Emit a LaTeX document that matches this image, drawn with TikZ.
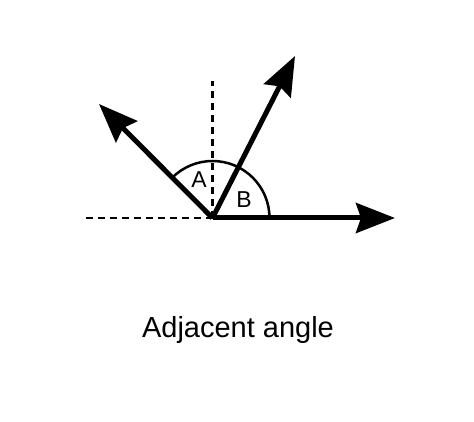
\documentclass[tikz,border=0pt]{standalone}
\usepackage{fontspec}
\setmainfont{Liberation Sans}
\usetikzlibrary{arrows.meta,positioning}

\begin{document}
\begin{tikzpicture}[x=1pt,y=1pt]
    %styles
    \tikzstyle{ray}=[-{Stealth[length=39pt,width=30pt,inset=5pt]},line width=5pt]
    \tikzstyle{guide}=[line width=2.5pt,dash pattern=on 7pt off 5pt]
    \tikzstyle{angarc}=[line width=2.5pt]
    \tikzstyle{lbl}=[font=\fontsize{23}{27}\selectfont]
    \useasboundingbox (0,0) rectangle (474,421);
    %points
    \coordinate (o) at (212.5,203);
    \coordinate (r) at (395,203);
    \coordinate (ur) at (295,365);
    \coordinate (ul) at (99,317);
    \coordinate (vt) at (212.5,339.5);
    \coordinate (hl) at (83,203);
    %nodes
    \node[lbl] (a) at (199,241) {A};
    \node[lbl] (b) at (244,221) {B};
    \node[font=\fontsize{29}{34}\selectfont] (cap) at (238,91) {Adjacent angle};

    %guides
    \draw[guide] (o)--(vt);
    \draw[guide] (o)--(hl);
    \draw[angarc] (o) ++(0:57) arc (0:135:57);
    %arrows
    \draw[ray] (o)--(r);
    \draw[ray] (o)--(ur);
    \draw[ray] (o)--(ul);
\end{tikzpicture}
\end{document}
